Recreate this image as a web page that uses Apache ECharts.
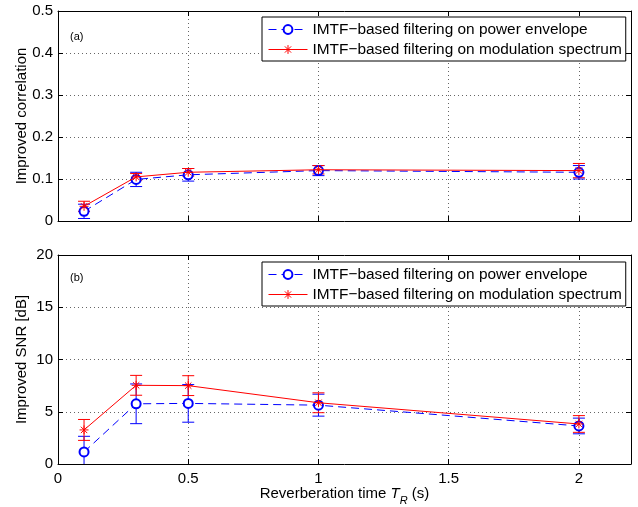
<!DOCTYPE html>
<html>
<head>
<meta charset="utf-8">
<script src="https://cdn.jsdelivr.net/npm/echarts@6/dist/echarts.min.js"></script>
<style>html,body{margin:0;padding:0;background:#fff}#c{width:638px;height:507px}</style>
</head>
<body>
<div id="c"></div>
<script>
// ---- data ----
const reverbTimes = [0.1, 0.3, 0.5, 1, 2];
const corrPower = [0.023, 0.099, 0.110, 0.120, 0.116];
const corrPowerErr = [0.017, 0.017, 0.015, 0.012, 0.016];
const corrMod = [0.035, 0.105, 0.116, 0.122, 0.120];
const corrModErr = [0.012, 0.008, 0.009, 0.010, 0.017];
const snrPower = [1.15, 5.76, 5.8, 5.63, 3.64];
const snrPowerErr = [1.5, 1.9, 1.8, 1.05, 0.75];
const snrMod = [3.26, 7.53, 7.5, 5.86, 3.83];
const snrModErr = [1.0, 0.95, 0.95, 0.95, 0.8];
const xTicks = [0, 0.5, 1, 1.5, 2];
const nameA = 'IMTF\u2212based filtering on power envelope';
const nameB = 'IMTF\u2212based filtering on modulation spectrum';

const FONT = 'Liberation Sans, Arial, Helvetica, sans-serif';
const FS = 15;
const BLUE = '#0000ff', RED = '#ff0000';
const STAR = 'path://M0,-5L0,5M-5,0L5,0M-3.54,-3.54L3.54,3.54M-3.54,3.54L3.54,-3.54';

function pts(xs, ys) { return xs.map((x, i) => [x, ys[i]]); }
function errs(xs, ys, es) { return xs.map((x, i) => [x, ys[i] - es[i], ys[i] + es[i]]); }

function errRender(color) {
  return function (params, api) {
    const x = api.value(0);
    const lo = api.coord([x, api.value(1)]);
    const hi = api.coord([x, api.value(2)]);
    const w = 6;
    const st = { stroke: color, lineWidth: 1 };
    return {
      type: 'group',
      children: [
        { type: 'line', shape: { x1: lo[0], y1: lo[1], x2: hi[0], y2: hi[1] }, style: st },
        { type: 'line', shape: { x1: lo[0] - w, y1: lo[1], x2: lo[0] + w, y2: lo[1] }, style: st },
        { type: 'line', shape: { x1: hi[0] - w, y1: hi[1], x2: hi[0] + w, y2: hi[1] }, style: st }
      ]
    };
  };
}

const axisCommon = {
  axisLine: { show: true, onZero: false, lineStyle: { color: '#000', width: 1 } },
  axisTick: { show: true, inside: true, length: 5, lineStyle: { color: '#000' } },
  axisLabel: { color: '#000', fontSize: FS, fontFamily: FONT },
  splitLine: { show: false }
};

function xAx(gi, pos, labels) {
  return Object.assign({}, axisCommon, {
    type: 'value', gridIndex: gi, position: pos, min: 0, max: 2.2, interval: 0.5,
    axisLabel: Object.assign({}, axisCommon.axisLabel, {
      show: labels, margin: 7,
      formatter: v => (xTicks.indexOf(v) >= 0 ? String(v) : '')
    }),
    splitLine: pos === 'bottom' ? { show: true, lineStyle: { color: '#666', type: [1, 3], width: 1 } } : { show: false }
  });
}
function yAx(gi, pos, max, interval, labels, name) {
  return Object.assign({}, axisCommon, {
    type: 'value', gridIndex: gi, position: pos, min: 0, max: max, interval: interval,
    name: name || '', nameLocation: 'middle', nameGap: 29, nameMoveOverlap: false,
    nameTextStyle: { color: '#000', fontSize: FS, fontFamily: FONT },
    axisLabel: Object.assign({}, axisCommon.axisLabel, { show: labels, margin: 5 }),
    splitLine: pos === 'left' ? { show: true, lineStyle: { color: '#666', type: [1, 3], width: 1 } } : { show: false }
  });
}

const xAxisName = '{a|Reverberation time }{t|T}{s|R}{a| (s)}';

const legendData = [
  { name: nameA,
    lineStyle: { color: BLUE, width: 1, type: [8, 5] },
    itemStyle: { color: BLUE, borderColor: BLUE, borderWidth: 1 } },
  { name: nameB,
    lineStyle: { color: RED, width: 1, type: 'solid' },
    itemStyle: { color: RED, borderColor: RED, borderWidth: 1 } }
];

const legendCommon = {
  orient: 'vertical', left: 262,
  padding: [5, 4, 4, 6], itemGap: 5, itemWidth: 39, itemHeight: 11,
  borderColor: '#000', borderWidth: 1, backgroundColor: '#fff',
  textStyle: { color: '#000', fontSize: 15.4, fontFamily: FONT },
  data: legendData, selectedMode: false
};

const option = {
  animation: false,
  backgroundColor: '#fff',
  grid: [
    { left: 58, right: 7, top: 11, height: 210, show: false },
    { left: 58, right: 7, top: 255, height: 211, show: false }
  ],
  xAxis: [
    xAx(0, 'bottom', false),
    xAx(0, 'top', false),
    Object.assign(xAx(1, 'bottom', true), {
      name: xAxisName, nameLocation: 'middle', nameGap: 18, nameMoveOverlap: false,
      nameTextStyle: {
        color: '#000', fontFamily: FONT,
        rich: {
          a: { fontSize: FS, fontFamily: FONT, color: '#000', lineHeight: 24 },
          t: { fontSize: FS, fontFamily: FONT, color: '#000', fontStyle: 'italic', lineHeight: 24 },
          s: { fontSize: 11, fontFamily: FONT, color: '#000', fontStyle: 'italic', lineHeight: 11, verticalAlign: 'bottom' }
        }
      }
    }),
    xAx(1, 'top', false)
  ],
  yAxis: [
    yAx(0, 'left', 0.5, 0.1, true, 'Improved correlation'),
    yAx(0, 'right', 0.5, 0.1, false),
    yAx(1, 'left', 20, 5, true, 'Improved SNR [dB]'),
    yAx(1, 'right', 20, 5, false)
  ],
  legend: [
    Object.assign({}, legendCommon, { top: 17 }),
    Object.assign({}, legendCommon, { top: 262 })
  ],
  graphic: [
    { type: 'text', left: 70, top: 31, style: { text: '(a)', fontSize: 11, fontFamily: FONT, fill: '#000' } },
    { type: 'text', left: 70, top: 272, style: { text: '(b)', fontSize: 11, fontFamily: FONT, fill: '#000' } }
  ],
  series: [
    { type: 'custom', xAxisIndex: 0, yAxisIndex: 0, renderItem: errRender(BLUE), data: errs(reverbTimes, corrPower, corrPowerErr), clip: true, z: 3 },
    { type: 'custom', xAxisIndex: 0, yAxisIndex: 0, renderItem: errRender(RED), data: errs(reverbTimes, corrMod, corrModErr), clip: true, z: 4 },
    { name: nameA, type: 'line', xAxisIndex: 0, yAxisIndex: 0, data: pts(reverbTimes, corrPower),
      symbol: 'emptyCircle', symbolSize: 9, showAllSymbol: true,
      lineStyle: { color: BLUE, width: 1, type: [8, 5] }, itemStyle: { color: BLUE, borderColor: BLUE, borderWidth: 1 }, z: 5 },
    { name: nameB, type: 'line', xAxisIndex: 0, yAxisIndex: 0, data: pts(reverbTimes, corrMod),
      symbol: STAR, symbolSize: 9, showAllSymbol: true,
      lineStyle: { color: RED, width: 1 }, itemStyle: { color: RED, borderColor: RED, borderWidth: 1 }, z: 6 },

    { type: 'custom', xAxisIndex: 2, yAxisIndex: 2, renderItem: errRender(BLUE), data: errs(reverbTimes, snrPower, snrPowerErr), clip: true, z: 3 },
    { type: 'custom', xAxisIndex: 2, yAxisIndex: 2, renderItem: errRender(RED), data: errs(reverbTimes, snrMod, snrModErr), clip: true, z: 4 },
    { name: nameA, type: 'line', xAxisIndex: 2, yAxisIndex: 2, data: pts(reverbTimes, snrPower),
      symbol: 'emptyCircle', symbolSize: 9, showAllSymbol: true,
      lineStyle: { color: BLUE, width: 1, type: [8, 5] }, itemStyle: { color: BLUE, borderColor: BLUE, borderWidth: 1 }, z: 5 },
    { name: nameB, type: 'line', xAxisIndex: 2, yAxisIndex: 2, data: pts(reverbTimes, snrMod),
      symbol: STAR, symbolSize: 9, showAllSymbol: true,
      lineStyle: { color: RED, width: 1 }, itemStyle: { color: RED, borderColor: RED, borderWidth: 1 }, z: 6 }
  ]
};

const chart = echarts.init(document.getElementById('c'), null, { renderer: 'canvas' });
chart.setOption(option);
</script>
</body>
</html>
